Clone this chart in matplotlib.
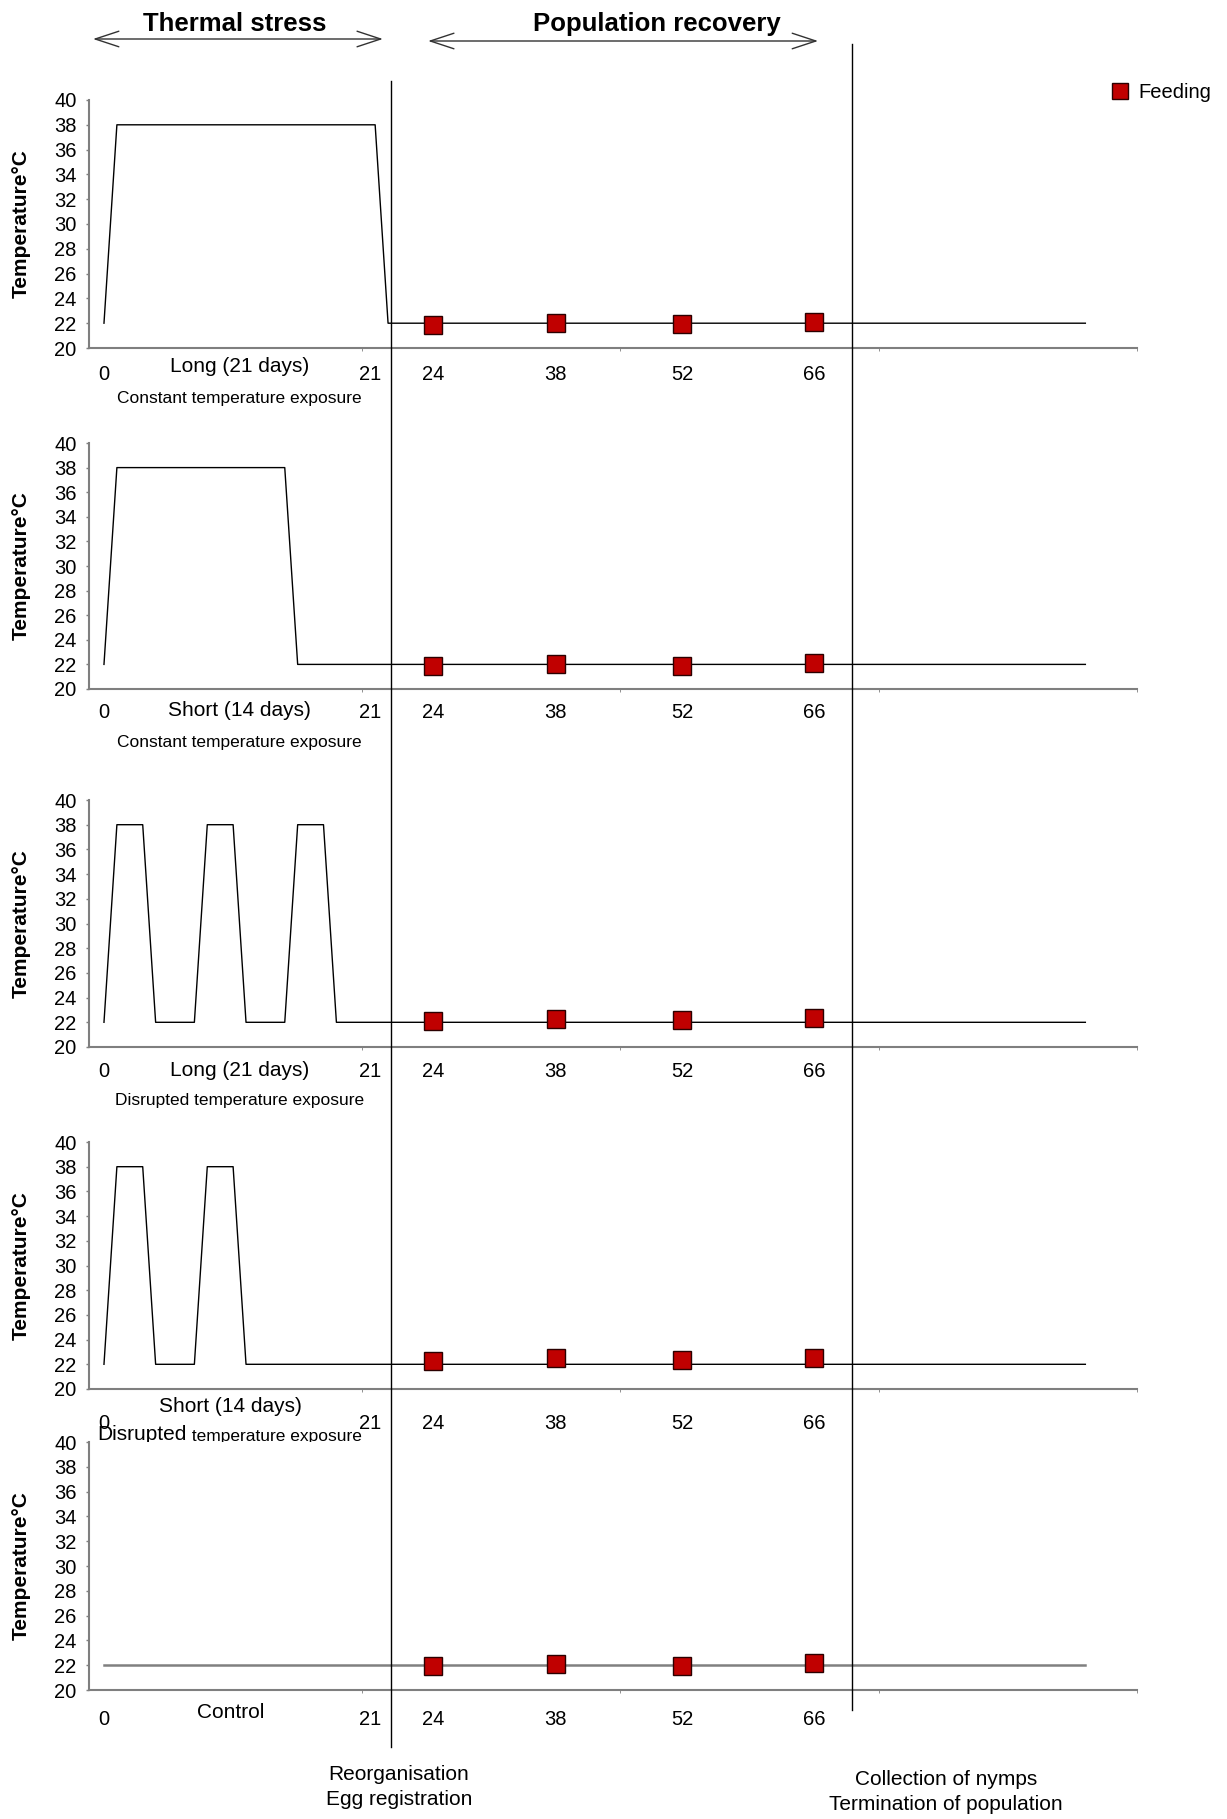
import numpy as np
import matplotlib
matplotlib.use('Agg')
import matplotlib.pyplot as plt
from matplotlib.lines import Line2D
from matplotlib.patches import FancyArrowPatch
from matplotlib.transforms import blended_transform_factory

plt.rcParams['font.family'] = ['Liberation Sans', 'DejaVu Sans']

# schematic time axis (not to scale), 20 units between the grey ticks
long_const_x = [0, 1, 21, 22, 76]
long_const_y = [22, 38, 38, 22, 22]
short_const_x = [0, 1, 14, 15, 76]
short_const_y = [22, 38, 38, 22, 22]
long_disr_x = [0, 1, 3, 4, 7, 8, 10, 11, 14, 15, 17, 18, 76]
long_disr_y = [22, 38, 38, 22, 22, 38, 38, 22, 22, 38, 38, 22, 22]
short_disr_x = [0, 1, 3, 4, 7, 8, 10, 11, 76]
short_disr_y = [22, 38, 38, 22, 22, 38, 38, 22, 22]
control_x = [0, 76]
control_y = [22, 22]

feed_x = [25.5, 35.0, 44.8, 55.0]
feed_y_long_const = [21.85, 22.02, 21.9, 22.08]
feed_y_short_const = [21.87, 22.03, 21.9, 22.1]
feed_y_long_disr = [22.13, 22.3, 22.16, 22.35]
feed_y_short_disr = [22.3, 22.48, 22.32, 22.54]
feed_y_control = [21.9, 22.1, 21.9, 22.15]

day_labels = ['0', '21', '24', '38', '52', '66']
day_label_x = [0, 20.6] + feed_x

stress_end = 22.2   # reorganisation / egg registration
pop_end = 57.9      # collection of nymps

W, H = 1227, 1819
RED = '#c00000'
GREY = '#7f7f7f'

panels = [
    dict(x=long_const_x, y=long_const_y, fy=feed_y_long_const, name='Long (21 days)',
         sub='Constant temperature exposure', top=100, bot=348, pad=25, ndy=19, sdy=50),
    dict(x=short_const_x, y=short_const_y, fy=feed_y_short_const, name='Short (14 days)',
         sub='Constant temperature exposure', top=443, bot=689, pad=22, ndy=22, sdy=53),
    dict(x=long_disr_x, y=long_disr_y, fy=feed_y_long_disr, name='Long (21 days)',
         sub='Disrupted temperature exposure', top=800, bot=1047, pad=23, ndy=23, sdy=54),
    dict(x=short_disr_x, y=short_disr_y, fy=feed_y_short_disr, name='Short (14 days)',
         sub=None, top=1142, bot=1389, pad=33, ndy=17, sdy=46),
    dict(x=control_x, y=control_y, fy=feed_y_control, name='Control',
         sub=None, top=1442, bot=1690, pad=28, ndy=22, sdy=0),
]

fig = plt.figure(figsize=(12.27, 18.19), dpi=100)
axes = []
for i, p in enumerate(panels):
    ax = fig.add_axes([89 / W, 1 - p['bot'] / H, 1048 / W, (p['bot'] - p['top']) / H])
    if i == 4:
        ax.plot(p['x'], p['y'], color='#808080', lw=1.8, zorder=2)
    else:
        ax.plot(p['x'], p['y'], color='black', lw=1.0, zorder=2)
    ax.plot(feed_x, p['fy'], ls='none', marker='s', ms=13, mfc=RED, mec='#2b0000',
            mew=1.0, zorder=3, clip_on=False)
    ax.set_xlim(-1.16, 80)
    ax.set_ylim(20, 40)
    ax.set_yticks(np.arange(20, 41, 2))
    ax.set_xticks(day_label_x)
    ax.set_xticklabels(day_labels)
    ax.set_xticks([0, 20, 40, 60, 80], minor=True)
    ax.tick_params(axis='x', which='major', length=0, pad=(p['pad'] - 7.5) / 1.389, labelsize=14.5)
    ax.tick_params(axis='x', which='minor', length=2.5, color=GREY, direction='out')
    ax.tick_params(axis='y', length=2.5, width=1, color=GREY, pad=6.5, labelsize=14.5)
    for s in ['top', 'right']:
        ax.spines[s].set_visible(False)
    for s in ['left', 'bottom']:
        ax.spines[s].set_color(GREY)
        ax.spines[s].set_linewidth(1.5)
    ax.set_ylabel('Temperature°C', fontsize=15, fontweight='bold')
    ax.yaxis.set_label_coords(-0.056, 0.5)
    ax.annotate(p['name'], xy=(10.5 if i < 3 else 9.8, 0), xycoords=('data', 'axes fraction'),
                xytext=(0, -p['ndy']), textcoords='offset pixels', ha='center', va='center',
                fontsize=15, annotation_clip=False)
    if p['sub']:
        ax.annotate(p['sub'], xy=(10.5, 0), xycoords=('data', 'axes fraction'),
                    xytext=(0, -p['sdy']), textcoords='offset pixels', ha='center', va='center',
                    fontsize=12.5, annotation_clip=False)
    if i == 3:
        # this caption is partly hidden behind the control panel, as in the source figure
        t1 = ax.annotate('Disrupted', xy=(-0.5, 0), xycoords=('data', 'axes fraction'),
                         xytext=(0, -p['sdy']), textcoords='offset pixels', ha='left', va='center',
                         fontsize=15, annotation_clip=False)
        ax.annotate(' temperature exposure', xy=(1, 0), xycoords=t1, ha='left', va='bottom',
                    fontsize=12.5, annotation_clip=False)
    axes.append(ax)

tr = blended_transform_factory(axes[0].transData, fig.transFigure)

# event lines
fig.add_artist(Line2D([stress_end, stress_end], [1 - 81 / H, 1 - 1747 / H], transform=tr,
                      color='black', lw=1.0))
fig.add_artist(Line2D([pop_end, pop_end], [1 - 44 / H, 1 - 1710 / H], transform=tr,
                      color='black', lw=1.0))

# phase arrows
for x0, x1, yp in [(-0.85, 21.6, 39), (25.1, 55.3, 41)]:
    fig.add_artist(FancyArrowPatch((x0, 1 - yp / H), (x1, 1 - yp / H), transform=tr,
                                   arrowstyle='<->,head_length=0.85,head_width=0.28',
                                   mutation_scale=20, lw=1.0, color='#333333',
                                   shrinkA=0, shrinkB=0))
fig.text(10.1, 1 - 24 / H, 'Thermal stress', transform=tr, ha='center', va='center',
         fontsize=18.5, fontweight='bold')
fig.text(42.8, 1 - 24 / H, 'Population recovery', transform=tr, ha='center', va='center',
         fontsize=18.5, fontweight='bold')

fig.text(22.85, 1 - 1787 / H, 'Reorganisation\nEgg registration', transform=tr,
         ha='center', va='center', fontsize=15, linespacing=1.35)
fig.text(65.2, 1 - 1792 / H, 'Collection of nymps\nTermination of population', transform=tr,
         ha='center', va='center', fontsize=15, linespacing=1.35)

handle = Line2D([], [], ls='none', marker='s', ms=12, mfc=RED, mec='#2b0000', mew=1.0)
fig.legend([handle], ['Feeding'], loc='center left', bbox_to_anchor=(1110 / W, 1 - 93 / H),
           frameon=False, fontsize=14.5, handlelength=1.0, handletextpad=0.4,
           borderpad=0, borderaxespad=0)

fig.savefig('out.png', dpi=100)
